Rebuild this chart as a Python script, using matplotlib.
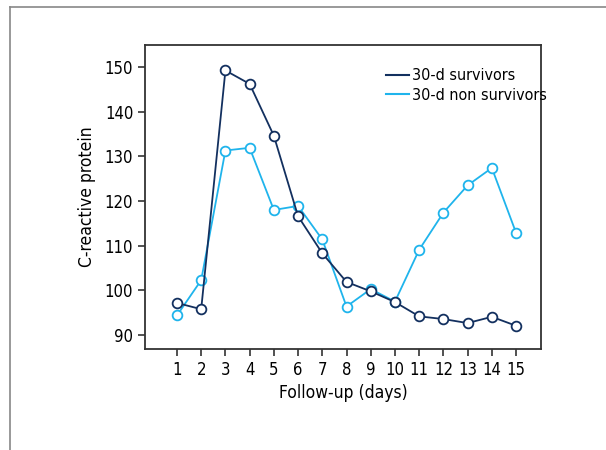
import matplotlib
matplotlib.use("Agg")
import matplotlib.pyplot as plt
from matplotlib.lines import Line2D

plt.rcParams['font.family'] = ['DejaVu Sans']
plt.rcParams['font.stretch'] = 'condensed'

days = list(range(1, 16))
survivors = [97.2, 95.8, 149.2, 146.2, 134.6, 116.6, 108.3, 101.9, 99.8, 97.4, 94.2, 93.6, 92.7, 94.1, 92.1]
non_survivors = [94.4, 102.3, 131.3, 131.9, 118.0, 118.9, 111.4, 96.4, 100.3, 97.5, 109.1, 117.4, 123.5, 127.4, 112.9]

dark = '#13305f'
light = '#1fb4ec'

fig = plt.figure(figsize=(6.06, 4.5), dpi=100)
ax = fig.add_axes([145/606, 1 - 349/450, 396/606, 304/450])

ax.plot(days, survivors, color=dark, lw=1.3, marker='o', ms=7,
        mfc='white', mec=dark, mew=1.3, label='30-d survivors', zorder=3)
ax.plot(days, non_survivors, color=light, lw=1.3, marker='o', ms=7,
        mfc='white', mec=light, mew=1.3, label='30-d non survivors', zorder=2)

ax.set_xlim(-0.32, 16.03)
ax.set_ylim(86.9, 154.9)
ax.set_xticks(days)
ax.set_yticks([90, 100, 110, 120, 130, 140, 150])
ax.tick_params(direction='out', length=5, width=1.2, color='#333333', labelsize=12)
for s in ax.spines.values():
    s.set_linewidth(1.3)
    s.set_color('#333333')

ax.set_xlabel('Follow-up (days)', fontsize=12.5, labelpad=4)
ax.set_ylabel('C-reactive protein', fontsize=12.5, labelpad=6)

leg = ax.legend(loc='upper left', bbox_to_anchor=(0.585, 0.955), frameon=False,
                fontsize=11.5, handlelength=1.4, handletextpad=0.2,
                labelspacing=0.3, borderaxespad=0.2)
for h in leg.get_lines():
    h.set_marker('')
    h.set_linewidth(1.5)

# outer frame
fig.add_artist(Line2D([10/606, 1], [1 - 7/450, 1 - 7/450], color='#888888', lw=1.2))
fig.add_artist(Line2D([10/606, 10/606], [0, 1 - 7/450], color='#888888', lw=1.2))

fig.savefig('out.png', dpi=100)
